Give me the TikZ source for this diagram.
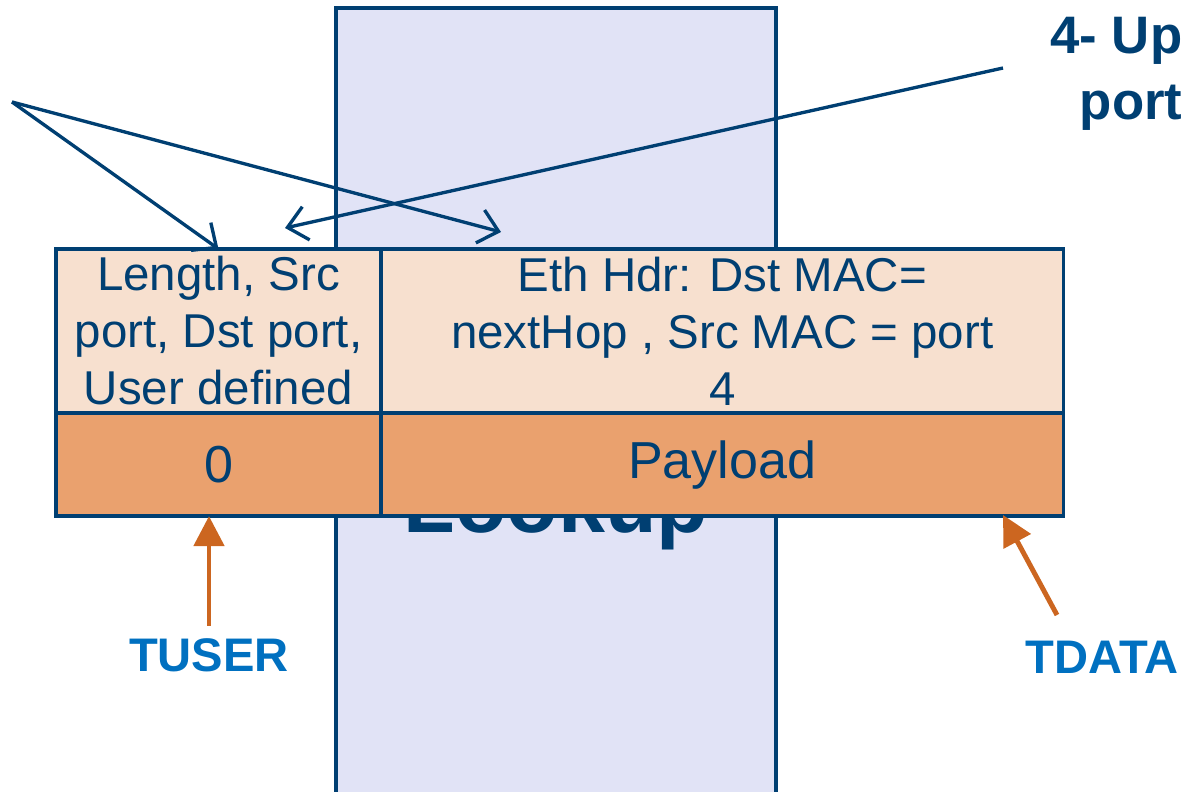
\documentclass[tikz,border=0pt]{standalone}
\usepackage{fontspec}
\setmainfont{Liberation Sans}
\usetikzlibrary{arrows.meta,positioning}

\definecolor{navy}{RGB}{0,63,114}
\definecolor{lookupfill}{RGB}{225,227,246}
\definecolor{hdrfill}{RGB}{247,224,207}
\definecolor{datafill}{RGB}{234,161,110}
\definecolor{busarrow}{RGB}{204,102,32}
\definecolor{buslabel}{RGB}{0,112,192}

\tikzset{
  cell/.style={draw=navy, line width=1pt, rectangle, outer sep=0pt, inner sep=0pt,
    text=navy, align=center, font=\fontsize{13.5}{16.2}\selectfont},
  hdrcell/.style={cell, fill=hdrfill, minimum height=1.64cm},
  datacell/.style={cell, fill=datafill, minimum height=1.03cm, font=\fontsize{14.8}{17.5}\selectfont},
  ptr/.style={draw=navy, line width=0.95pt, -{Straight Barb[length=1.9mm,width=3.4mm]}},
  busptr/.style={draw=busarrow, line width=1.4pt, -{Triangle[length=3mm,width=3mm]}},
  buslbl/.style={text=buslabel, font=\bfseries\fontsize{13.4}{16}\selectfont},
}

\begin{document}
\begin{tikzpicture}[x=0.01cm, y=-0.01cm]

    \useasboundingbox (0,0) rectangle (1182,792);
    \clip (0,0) rectangle (1182,792);

    % Lookup block behind the table
    \draw[navy, fill=lookupfill, line width=1pt] (336,8) rectangle (776,810);
    \node[anchor=base, inner sep=0pt, text=navy, font=\bfseries\fontsize{24}{28}\selectfont] (lookup) at (556,533) {Lookup};

    % Header row
    \node[hdrcell, minimum width=3.25cm] (usrhdr) at (218.5,331) {Length, Src\\port, Dst port,\\User defined};
    \node[hdrcell, minimum width=6.82cm, right=0pt of usrhdr] (ethhdr) {Eth Hdr: Dst MAC=\\nextHop , Src MAC = port\\4};

    % Data row
    \node[datacell, minimum width=3.25cm, below=0pt of usrhdr] (usrval) {0};
    \node[datacell, minimum width=6.82cm, below=0pt of ethhdr] (payload) {Payload};

    % Labels
    \node[anchor=north east, inner sep=0pt, align=right, text=navy, font=\bfseries\fontsize{15}{18.5}\selectfont] (upport) at (1183,17) {4- Up\\port};
    \node[buslbl] (tuser) at (209,655) {TUSER};
    \node[buslbl] (tdata) at (1102,657) {TDATA};

    % Free ends of the pointers
    \coordinate (fan) at (12,102);
    \coordinate (ethtip) at (501,232);
    \coordinate (upfrom) at (1003,68);
    \coordinate (usrtip) at (285,228);
    \coordinate (datatail) at (1057,615);
    \coordinate (datatip) at (1003,515);

    % Blue pointers
    \draw[ptr] (fan) -- (usrhdr.north);
    \draw[ptr] (fan) -- (ethtip);
    \draw[ptr] (upfrom) -- (usrtip);

    % Orange bus arrows
    \draw[busptr] (tuser.north) -- (tuser.north |- usrval.south);
    \draw[busptr] (datatail) -- (datatip);

\end{tikzpicture}
\end{document}
